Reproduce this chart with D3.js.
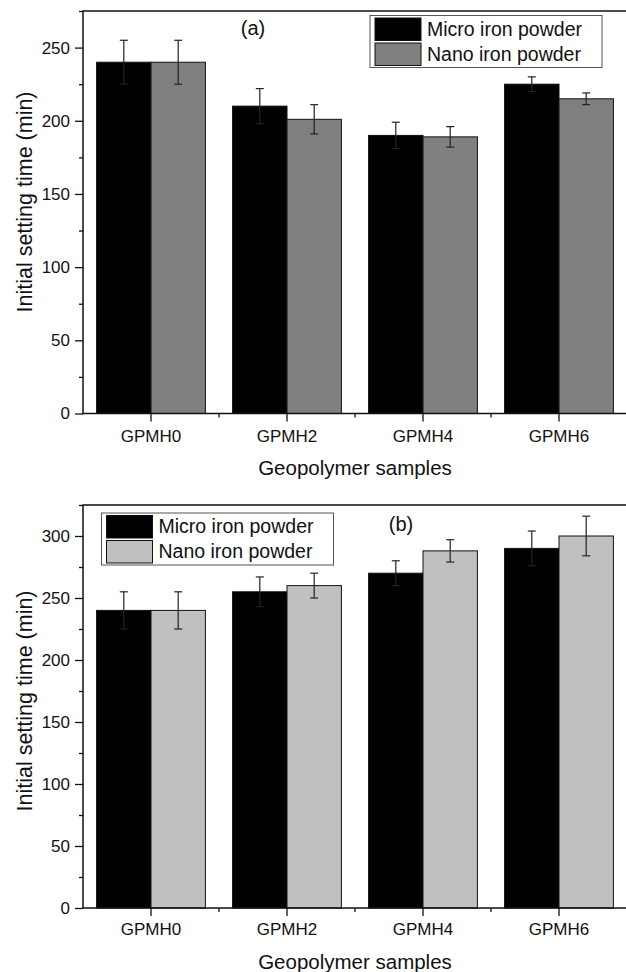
<!DOCTYPE html>
<html lang="en">
<head>
<meta charset="UTF-8">
<title>Initial setting time</title>
<style>
    body { margin: 0; background: #fff; }
    svg { display: block; }
    text { font-family: "Liberation Sans", Arial, sans-serif; fill: #111; }
    .frame { fill: none; stroke: #111; stroke-width: 1.5px; }
    .bar { stroke: #111; stroke-width: 1px; }
    .err { stroke: #222; stroke-width: 1.2px; fill: none; }
    .legend-box { fill: #fff; stroke: #555; stroke-width: 1px; }
</style>
</head>
<body>
<svg id="chart" width="626" height="972"></svg>
<script src="https://d3js.org/d3.v7.min.js"></script>
<script>
// data
const samples = ["GPMH0", "GPMH2", "GPMH4", "GPMH6"];
const seriesNames = ["Micro iron powder", "Nano iron powder"];

const microA = [240, 210, 190, 225];
const microAErr = [15, 12, 9, 5];
const nanoA = [240, 201, 189, 215];
const nanoAErr = [15, 10, 7, 4];

const microB = [240, 255, 270, 290];
const microBErr = [15, 12, 10, 14];
const nanoB = [240, 260, 288, 300];
const nanoBErr = [15, 10, 9, 16];

const yTicksA = [0, 50, 100, 150, 200, 250];
const yMinorA = [25, 75, 125, 175, 225, 275];
const yTicksB = [0, 50, 100, 150, 200, 250, 300];
const yMinorB = [25, 75, 125, 175, 225, 275, 325];

const svg = d3.select("#chart");

function drawPanel(p) {
    const g = svg.append("g");
    const left = 83, right = 627;

    const x = d3.scaleBand().domain(samples).range([left, right])
        .paddingInner(0.2).paddingOuter(0.1);
    const x1 = d3.scaleBand().domain(seriesNames).range([0, x.bandwidth()]);
    const y = d3.scaleLinear().domain([0, p.yMax]).range([p.bottom, p.top]);

    const rows = [];
    samples.forEach((s, i) => {
        rows.push({ s: s, k: seriesNames[0], v: p.micro[i], e: p.microErr[i], c: "#000" });
        rows.push({ s: s, k: seriesNames[1], v: p.nano[i], e: p.nanoErr[i], c: p.nanoColor });
    });

    // bars
    g.selectAll("rect.bar").data(rows).join("rect")
        .attr("class", "bar")
        .attr("x", d => x(d.s) + x1(d.k))
        .attr("width", x1.bandwidth())
        .attr("y", d => y(d.v))
        .attr("height", d => y(0) - y(d.v))
        .attr("fill", d => d.c);

    // error bars
    const cx = d => x(d.s) + x1(d.k) + x1.bandwidth() / 2;
    const eb = g.selectAll("g.eb").data(rows).join("g").attr("class", "eb");
    eb.append("line").attr("class", "err")
        .attr("x1", cx).attr("x2", cx)
        .attr("y1", d => y(d.v + d.e))
        .attr("y2", d => y(d.v - d.e));
    [1, -1].forEach(sign => {
        eb.append("line").attr("class", "err")
            .attr("x1", d => cx(d) - 4)
            .attr("x2", d => cx(d) + 4)
            .attr("y1", d => y(d.v + sign * d.e))
            .attr("y2", d => y(d.v + sign * d.e));
    });

    // y axis
    const yAxis = g.append("g").attr("transform", `translate(${left},0)`)
        .call(d3.axisLeft(y).tickValues(p.yTicks).tickSize(8).tickPadding(5));
    yAxis.select(".domain").remove();
    yAxis.selectAll("text").style("font-size", "17px").attr("fill", "#111");
    yAxis.selectAll("line").attr("stroke", "#111").attr("stroke-width", 1.3);

    const yMinor = g.append("g").attr("transform", `translate(${left},0)`)
        .call(d3.axisLeft(y).tickValues(p.yMinor.filter(v => v <= p.yMax)).tickSize(4).tickFormat(""));
    yMinor.select(".domain").remove();
    yMinor.selectAll("line").attr("stroke", "#111").attr("stroke-width", 1.3);

    // x axis
    const xAxis = g.append("g").attr("transform", `translate(0,${p.bottom})`)
        .call(d3.axisBottom(x).tickSize(8).tickPadding(p.xPad));
    xAxis.select(".domain").remove();
    xAxis.selectAll("text").style("font-size", "17px").attr("fill", "#111");
    xAxis.selectAll("line").attr("stroke", "#111").attr("stroke-width", 1.3);

    const bounds = samples.slice(1).map(s => x(s) + x.bandwidth() / 2 - x.step() / 2);
    g.selectAll("line.xminor").data(bounds).join("line")
        .attr("x1", d => d).attr("x2", d => d)
        .attr("y1", p.bottom).attr("y2", p.bottom + 4)
        .attr("stroke", "#111").attr("stroke-width", 1.3);

    // frame
    g.append("rect").attr("class", "frame")
        .attr("x", left).attr("y", p.top)
        .attr("width", right - left).attr("height", p.bottom - p.top);

    // axis titles
    g.append("text")
        .attr("x", (left + right) / 2).attr("y", p.bottom + 61)
        .attr("text-anchor", "middle").style("font-size", "20.5px")
        .text("Geopolymer samples");
    g.append("text")
        .attr("transform", `translate(32,${p.titleY}) rotate(-90)`)
        .attr("text-anchor", "middle").style("font-size", "21.5px")
        .text("Initial setting time (min)");

    // panel label
    g.append("text")
        .attr("x", p.labelX).attr("y", p.labelY)
        .attr("text-anchor", "middle").style("font-size", "20px")
        .text(p.label);

    // legend
    const lg = g.append("g").attr("transform", `translate(${p.legX},${p.legY})`);
    lg.append("rect").attr("class", "legend-box")
        .attr("width", p.legW).attr("height", 52);
    [["#000", seriesNames[0]], [p.nanoColor, seriesNames[1]]].forEach((it, i) => {
        lg.append("rect").attr("class", "bar")
            .attr("x", 5).attr("y", 2.5 + i * 25)
            .attr("width", 46).attr("height", 22.5)
            .attr("fill", it[0]);
        lg.append("text")
            .attr("x", 57).attr("y", 20 + i * 25)
            .style("font-size", "19.5px")
            .text(it[1]);
    });
}

drawPanel({
    top: 11, bottom: 413.5, yMax: 275,
    micro: microA, microErr: microAErr, nano: nanoA, nanoErr: nanoAErr,
    nanoColor: "#808080", yTicks: yTicksA, yMinor: yMinorA, xPad: 8,
    label: "(a)", labelX: 253, labelY: 35, titleY: 202,
    legX: 370, legY: 15.5, legW: 232
});

drawPanel({
    top: 505, bottom: 908, yMax: 325,
    micro: microB, microErr: microBErr, nano: nanoB, nanoErr: nanoBErr,
    nanoColor: "#c0c0c0", yTicks: yTicksB, yMinor: yMinorB, xPad: 7,
    label: "(b)", labelX: 401, labelY: 531, titleY: 701,
    legX: 101.5, legY: 513, legW: 232
});
</script>
</body>
</html>
